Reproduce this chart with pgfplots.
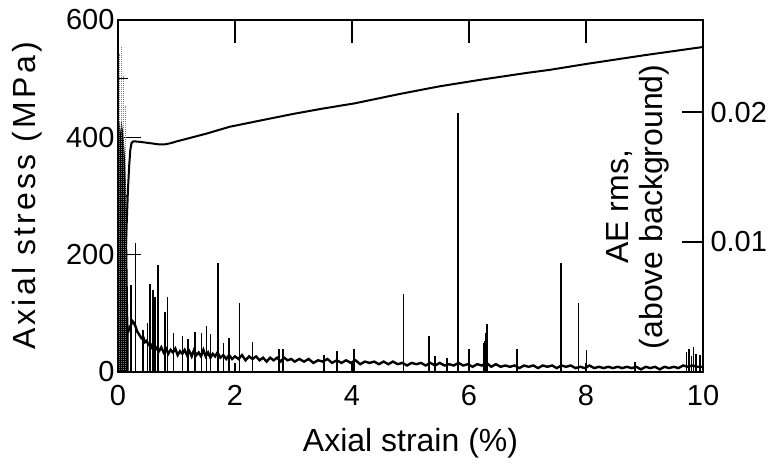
\documentclass[border=0pt]{standalone}
\usepackage{fontspec}
\setmainfont{Liberation Sans}
\usepackage{pgfplots}
\pgfplotsset{compat=1.18}
\newcommand\tickfont{\fontsize{29}{33}\selectfont}
\newcommand\labfont{\fontsize{32}{34}\selectfont}
\newfontfamily\spacedfont[LetterSpace=10]{Liberation Sans}
\pgfplotsset{
  common/.style={
    at={(118pt,98pt)}, anchor=south west,
    scale only axis, width=585pt, height=352pt,
    xmin=0, xmax=10,
    axis line style={line width=2.5pt},
    tick align=inside,
    every tick/.style={black, line width=1.6pt},
    tick label style={font=\tickfont},
    /pgf/number format/assume math mode=true,
    clip=true,
  }
}
\begin{document}
\begin{tikzpicture}
% ---------- axis A : stress, left ticks and top ticks
\begin{axis}[common,
  ymin=0, ymax=600,
  ytick={0,200,400,600}, minor ytick={100,300,500}, ytick pos=left,
  xtick={2,4,6,8}, xtick pos=right, xticklabels={},
  major tick length=23pt, minor tick length=10pt,
  ylabel={\spacedfont\fontsize{32}{34}\selectfont Axial stress (MPa)},
  ylabel style={at={(axis description cs:-0.156,0.5)}, anchor=center, rotate=0},
]
\addplot[black, line width=2pt] coordinates {
(0,0) (0.06,60) (0.1,130) (0.13,200) (0.155,270) (0.17,310) (0.19,350) (0.21,378)
(0.23,390) (0.26,393) (0.3,393) (0.4,392) (0.55,390) (0.7,388) (0.8,388) (0.9,390)
(1.0,393) (1.5,406) (1.91,418) (2.5,430) (3.0,440) (3.5,449) (4.05,458) (4.82,474)
(5.5,487) (6.19,498) (7.0,510) (7.38,515) (8.0,525) (9.0,540) (10.0,554)
};
\end{axis}
% ---------- axis B : AE rms, right ticks
\begin{axis}[common,
  ymin=0, ymax=0.02708,
  xtick=\empty,
  ytick={0.01,0.02}, yticklabels={0.01,0.02}, ytick pos=right,
  scaled y ticks=false,
  major tick length=21pt,
  ylabel={AE rms,\\(above background)},
  ylabel style={font=\labfont, align=center, at={(axis description cs:0.889,0.469)}, anchor=center, rotate=0},
  yticklabel style={xshift=4pt},
]
% dense region near zero strain
\addplot[fill=black, draw=black, line width=1pt] coordinates {
(0,0.0185) (0.02,0.019) (0.04,0.0178) (0.06,0.019) (0.08,0.0184) (0.1,0.0172)
(0.115,0.0160) (0.13,0.0140) (0.145,0.0110) (0.155,0.0075) (0.165,0.0045) (0.175,0.0030)
} \closedcycle;
\addplot[ycomb, gray, line width=1pt, densely dotted] coordinates {
(0.03,0.0245) (0.065,0.0250) (0.095,0.0228) (0.12,0.0205)
};
% baseline with noise
\addplot[black, line width=2.4pt] coordinates {
(0.165,0.0030) (0.19,0.0033) (0.22,0.0036) (0.25,0.0039) (0.27,0.0038) (0.30,0.0035)
(0.33,0.0031) (0.36,0.0029) (0.40,0.0026) (0.43,0.0027) (0.46,0.0023) (0.49,0.0024)
(0.52,0.0021) (0.55,0.0022) (0.58,0.0019) (0.61,0.0021) (0.64,0.0017) (0.67,0.0019)
(0.70,0.0016) (0.74,0.0019) (0.78,0.0015) (0.82,0.0018) (0.86,0.0014) (0.90,0.0017)
(0.94,0.0015) (0.98,0.0018) (1.02,0.0013) (1.06,0.0016) (1.10,0.0014) (1.14,0.0017)
(1.18,0.0013) (1.22,0.0016) (1.26,0.0012) (1.30,0.0017) (1.34,0.0013) (1.38,0.0015)
(1.42,0.0012) (1.46,0.0017) (1.50,0.0012) (1.54,0.0015) (1.58,0.0011) (1.62,0.0014)
(1.66,0.0012) (1.70,0.0015) (1.75,0.0011) (1.80,0.0013) (1.85,0.0010) (1.90,0.0013)
(1.95,0.0010) (2.00,0.0012) (2.06,0.0010) (2.12,0.0013) (2.18,0.0009) (2.24,0.0012)
(2.30,0.0010) (2.36,0.0012) (2.42,0.0009) (2.48,0.0011) (2.54,0.0008) (2.60,0.0011)
(2.66,0.0009) (2.72,0.0011) (2.78,0.0008) (2.84,0.0011) (2.90,0.0009) (2.96,0.0010)
(3.02,0.0008) (3.10,0.0010) (3.18,0.0008) (3.26,0.0010) (3.34,0.0007) (3.42,0.0009)
(3.50,0.0008) (3.58,0.0010) (3.66,0.0007) (3.74,0.0009) (3.82,0.0007) (3.90,0.0009)
(3.98,0.0007) (4.06,0.0009) (4.14,0.0006) (4.22,0.0008) (4.30,0.0007) (4.38,0.0008)
(4.46,0.0006) (4.54,0.0008) (4.62,0.0006) (4.70,0.0008) (4.78,0.0006) (4.86,0.0007)
(4.94,0.0005) (5.02,0.0007) (5.10,0.0006) (5.18,0.0007) (5.26,0.0005) (5.34,0.0007)
(5.42,0.0005) (5.50,0.0007) (5.58,0.0005) (5.66,0.0006) (5.74,0.0005) (5.82,0.0007)
(5.90,0.0005) (5.98,0.0006) (6.06,0.0004) (6.14,0.0006) (6.22,0.0005) (6.30,0.0007)
(6.38,0.0004) (6.46,0.0006) (6.54,0.0004) (6.62,0.0005) (6.70,0.0004) (6.78,0.0005)
(6.86,0.0003) (6.94,0.0005) (7.02,0.0004) (7.10,0.0005) (7.18,0.0003) (7.26,0.0005)
(7.34,0.0004) (7.42,0.0005) (7.50,0.0003) (7.58,0.0005) (7.66,0.0004) (7.74,0.0005)
(7.82,0.0003) (7.90,0.0004) (7.98,0.0003) (8.06,0.0005) (8.14,0.0003) (8.22,0.0004)
(8.30,0.0003) (8.38,0.0004) (8.46,0.0003) (8.54,0.0004) (8.62,0.0003) (8.70,0.0004)
(8.78,0.0003) (8.86,0.0004) (8.94,0.0002) (9.02,0.0004) (9.10,0.0003) (9.18,0.0004)
(9.26,0.0002) (9.34,0.0004) (9.42,0.0003) (9.50,0.0004) (9.58,0.0003) (9.66,0.0005)
(9.74,0.0004) (9.82,0.0005) (9.90,0.0004) (10.0,0.0004)
};
% spikes
\addplot[ycomb, black, line width=1.5pt] coordinates {
(0.22,0.0067) (0.30,0.0099) (0.43,0.0032) (0.50,0.0038) (0.55,0.0068) (0.60,0.0063)
(0.63,0.0058) (0.68,0.0082) (0.80,0.0046) (0.85,0.0058) (0.95,0.0030) (1.10,0.0028)
(1.20,0.0025) (1.32,0.0031) (1.43,0.0030) (1.51,0.0035) (1.58,0.0029) (1.71,0.0084)
(1.80,0.0022) (1.90,0.0026) (2.08,0.0053) (2.30,0.0023) (2.75,0.0018) (2.82,0.0018)
(3.52,0.0013) (3.74,0.0016) (4.03,0.0018) (4.88,0.0060) (5.32,0.0028) (5.42,0.0012)
(5.62,0.0011) (6.00,0.0018) (6.26,0.0022) (6.27,0.0024) (6.28,0.0026) (6.29,0.0030)
(6.30,0.0028) (6.31,0.0037) (6.82,0.0018) (7.57,0.0084) (7.87,0.0053) (8.01,0.0017)
(8.84,0.0008) (9.72,0.0015) (9.76,0.0018) (9.80,0.0012) (9.84,0.0019) (9.88,0.0014)
(9.95,0.0013)
};
\addplot[ycomb, black, line width=2.2pt] coordinates {(5.81,0.0199)};
\end{axis}
% ---------- axis C : bottom x ticks and labels
\begin{axis}[common,
  ymin=0, ymax=1, ytick=\empty,
  xtick={0,2,4,6,8,10}, xtick pos=left,
  major tick length=9pt,
  xticklabel style={yshift=-10pt},
  xlabel={Axial strain (\%)},
  xlabel style={font=\labfont, at={(axis description cs:0.5,-0.2017)}, anchor=center},
]
\end{axis}
\pgfresetboundingbox
\useasboundingbox (0,0) rectangle (779pt,470pt);
\end{tikzpicture}
\end{document}
